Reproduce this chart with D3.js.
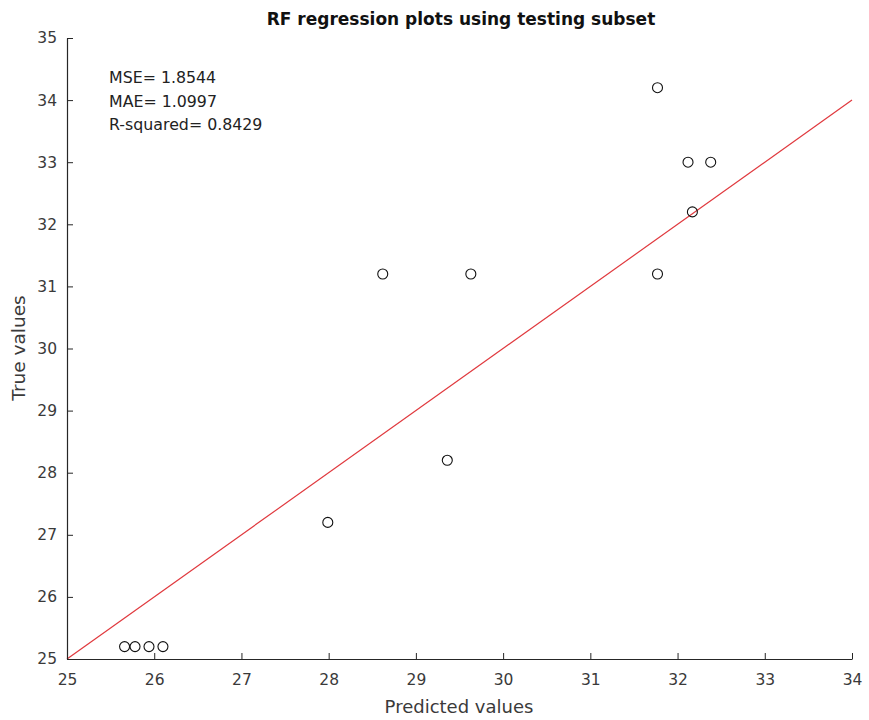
<!DOCTYPE html>
<html><head><meta charset="utf-8">
<script src="https://cdn.jsdelivr.net/npm/d3@7"></script>
<style>
body{margin:0;background:#fff;}
text{font-family:"DejaVu Sans",sans-serif;}
</style></head>
<body><svg id="c" width="869" height="720"></svg>
<script>
const predicted = [25.66, 25.78, 25.94, 26.10, 27.99, 29.36, 28.62, 29.63, 31.77, 32.12, 32.38, 32.17, 31.77];
const trueVals  = [25.2, 25.2, 25.2, 25.2, 27.2, 28.2, 31.2, 31.2, 34.2, 33.0, 33.0, 32.2, 31.2];
const xTicks = [25, 26, 27, 28, 29, 30, 31, 32, 33, 34];
const yTicks = [25, 26, 27, 28, 29, 30, 31, 32, 33, 34, 35];
const fitLine = [25, 34];
const stats = ["MSE= 1.8544", "MAE= 1.0997", "R-squared= 0.8429"];
const title = "RF regression plots using testing subset";

const svg = d3.select("#c");
const L = 67, R = 852, T = 38, B = 659;
const x = d3.scaleLinear().domain([25, 34]).range([L, R]);
const y = d3.scaleLinear().domain([25, 35]).range([B, T]);

// fit line y = x
svg.append("line")
  .attr("x1", x(fitLine[0])).attr("y1", y(fitLine[0]))
  .attr("x2", x(fitLine[1])).attr("y2", y(fitLine[1]))
  .attr("stroke", "#e0393e").attr("stroke-width", 1.2);

// axes
const xAxis = d3.axisBottom(x).tickValues(xTicks).tickSizeInner(-6).tickSizeOuter(0).tickPadding(15).tickFormat(d3.format("d"));
const yAxis = d3.axisLeft(y).tickValues(yTicks).tickSizeInner(-6).tickSizeOuter(0).tickPadding(10).tickFormat(d3.format("d"));
const gx = svg.append("g").attr("transform", `translate(0,${B})`).call(xAxis);
const gy = svg.append("g").attr("transform", `translate(${L},0)`).call(yAxis);
[gx, gy].forEach(g => {
  g.select(".domain").attr("stroke", "#262626").attr("stroke-width", 1.2);
  g.selectAll(".tick line").attr("stroke", "#262626").attr("stroke-width", 1);
  g.selectAll(".tick text").attr("fill", "#3a3a3a").attr("font-size", 15.5).attr("font-family", "DejaVu Sans, sans-serif");
});

// points
svg.append("g").selectAll("circle").data(predicted).join("circle")
  .attr("cx", (d) => x(d))
  .attr("cy", (d, i) => y(trueVals[i]))
  .attr("r", 5)
  .attr("fill", "none").attr("stroke", "#111").attr("stroke-width", 1.1);

// title
svg.append("text").attr("x", 461).attr("y", 25).attr("text-anchor", "middle")
  .attr("font-size", 17).attr("font-weight", "bold").attr("fill", "#111").text(title);

// stats
svg.append("g").selectAll("text").data(stats).join("text")
  .attr("x", 109).attr("y", (d, i) => 83 + i * 23.5)
  .attr("font-size", 15.8).attr("fill", "#222").text(d => d);

// axis labels
svg.append("text").attr("x", 459).attr("y", 713).attr("text-anchor", "middle")
  .attr("font-size", 18).attr("fill", "#3a3a3a").text("Predicted values");
svg.append("text").attr("transform", "translate(25,348) rotate(-90)").attr("text-anchor", "middle")
  .attr("font-size", 18.5).attr("fill", "#3a3a3a").text("True values");
</script></body></html>
